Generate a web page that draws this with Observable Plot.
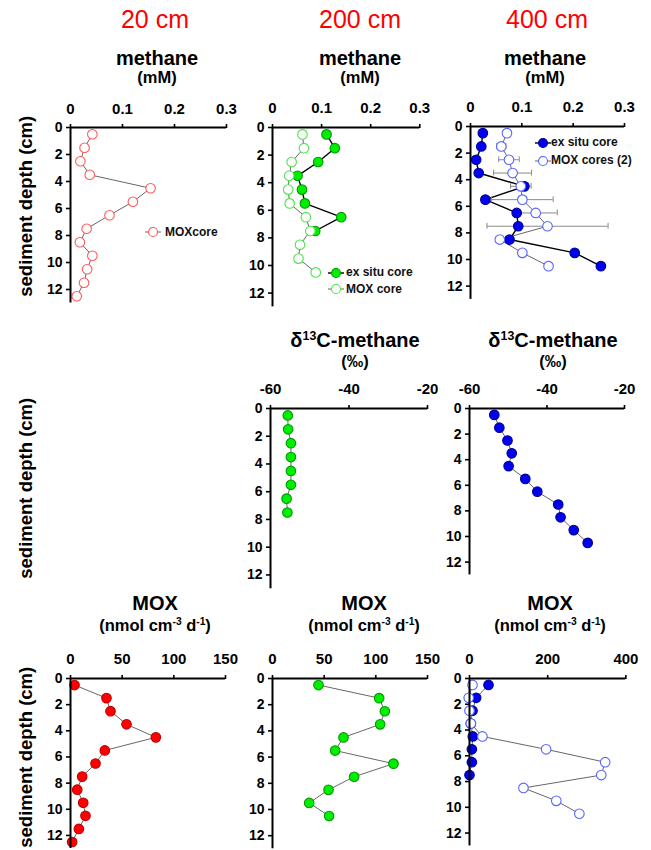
<!DOCTYPE html>
<html>
<head>
<meta charset="utf-8">
<script src="https://cdn.jsdelivr.net/npm/d3@7"></script>
<script src="https://cdn.jsdelivr.net/npm/@observablehq/plot@0.6"></script>
<style>
  body { margin: 0; background: #fff; font-family: "Liberation Sans", Arial, sans-serif; }
  #root { position: relative; width: 651px; height: 850px; overflow: hidden; background: #fff; }
  .txt { position: absolute; width: 300px; text-align: center; white-space: nowrap; line-height: 1; color: #000; }
  .hdr { color: #ff0000; font-size: 25px; }
  .ttl { font-weight: bold; font-size: 20px; }
  .sub { font-weight: bold; font-size: 16.5px; }
  .sup { font-size: 0.62em; position: relative; top: -0.55em; }
  .ylab { position: absolute; width: 260px; text-align: center; white-space: nowrap; line-height: 1;
          font-weight: bold; font-size: 18.5px; transform: rotate(-90deg); transform-origin: 50% 50%; }
  .leg { position: absolute; font-weight: bold; font-size: 12px; line-height: 1; white-space: nowrap; color: #111; }
</style>
</head>
<body>
<div id="root"></div>
<script>
// ---------------- DATA ----------------
const depths = [0.5, 1.5, 2.5, 3.5, 4.5, 5.5, 6.5, 7.5, 8.5, 9.5, 10.5, 11.5, 12.5];
const depthTicks = [0, 2, 4, 6, 8, 10, 12];
const columnLabels = ["20 cm", "200 cm", "400 cm"];

// methane (mM)
const ch4_20_mox = [0.042, 0.027, 0.019, 0.037, 0.154, 0.120, 0.075, 0.031, 0.018, 0.042, 0.032, 0.026, 0.012];
const ch4_200_exsitu = [0.110, 0.127, 0.093, 0.051, 0.060, 0.066, 0.140, 0.087];
const ch4_200_mox = [0.061, 0.064, 0.039, 0.034, 0.032, 0.035, 0.068, 0.077, 0.056, 0.053, 0.088];
const ch4_400_exsitu = [0.024, 0.021, 0.011, 0.016, 0.105, 0.029, 0.090, 0.093, 0.076, 0.203, 0.254];
const ch4_400_mox = [0.071, 0.060, 0.075, 0.082, 0.098, 0.101, 0.127, 0.150, 0.057, 0.101, 0.152];
const ch4_400_mox_sd = [0, 0.009, 0.020, 0.037, 0.020, 0.060, 0.042, 0.118, 0, 0, 0];
const ch4Ticks = [0, 0.1, 0.2, 0.3];

// d13C-methane (permil)
const d13c_200 = [-55.6, -55.5, -54.8, -54.8, -54.8, -54.8, -55.9, -55.7];
const d13c_400 = [-53.6, -52.3, -50.2, -49.1, -49.9, -45.6, -42.5, -37.1, -36.5, -33.1, -29.5];
const d13cTicks = [-60, -40, -20];

// MOX (nmol cm-3 d-1)
const mox_20 = [3.9, 34.8, 38.7, 54.2, 82.6, 33.2, 24.2, 11.3, 6.5, 12.3, 14.5, 8.1, 1.6];
const mox_200 = [44.5, 103.2, 108.7, 104.2, 68.7, 60.6, 117.1, 79.0, 54.2, 35.5, 54.8];
const mox_400_exsitu = [48.6, 17, 7.7, 3.4, 8.5, 6, 6, 0];
const mox_400_mox = [7.7, -2, 0, 3.4, 33, 196, 347, 337, 138, 222, 281];
const moxTicks20 = [0, 50, 100, 150];
const moxTicks400 = [0, 200, 400];

// ---------------- HELPERS ----------------
const FONT = '"Liberation Sans", Arial, sans-serif';
const root = document.getElementById("root");
const rows = (vals, sd) => vals.map((v, i) => ({depth: depths[i], v, sd: sd ? sd[i] : 0}));

const C = {
  redOpen: "#ff5a5a", redFill: "#ff0000", redEdge: "#c00000",
  greenFill: "#00ee00", greenEdge: "#009a00", greenOpen: "#4ee44e",
  blueFill: "#0000ee", blueEdge: "#00009a", blueOpen: "#5565ff",
  grayLine: "#666666", blackLine: "#000000", err: "#8a8a8a"
};

function lineMark(data, stroke, width) {
  return Plot.line(data, {x: "v", y: "depth", stroke, strokeWidth: width});
}
function dotMark(data, fill, stroke) {
  return Plot.dot(data, {x: "v", y: "depth", r: 4.8, fill, stroke, strokeWidth: 1.1});
}
function errMarks(data) {
  const e = data.filter(d => d.sd > 0);
  return [
    Plot.ruleY(e, {y: "depth", x1: d => d.v - d.sd, x2: d => d.v + d.sd, stroke: C.err, strokeWidth: 1}),
    Plot.ruleX(e, {x: d => d.v - d.sd, y1: d => d.depth - 0.22, y2: d => d.depth + 0.22, stroke: C.err, strokeWidth: 1}),
    Plot.ruleX(e, {x: d => d.v + d.sd, y1: d => d.depth - 0.22, y2: d => d.depth + 0.22, stroke: C.err, strokeWidth: 1})
  ];
}

const ML = 36, MT = 36, MR = 14, MB = 4;
function panel(p) {
  const w = p.x1 - p.x0, h = 13 * p.ppc;
  const svg = Plot.plot({
    width: ML + w + MR, height: MT + h + MB,
    marginLeft: ML, marginTop: MT, marginRight: MR, marginBottom: MB,
    x: {domain: p.domain, label: null},
    y: {domain: [0, 13], reverse: true, label: null},
    style: {fontFamily: FONT, background: "transparent", color: "#000", overflow: "visible"},
    marks: [
      ...p.marks,
      Plot.ruleY([0], {stroke: "#000", strokeWidth: 2}),
      Plot.ruleX([p.domain[0]], {stroke: "#000", strokeWidth: 2}),
      Plot.axisX({anchor: "top", ticks: p.ticks, tickSize: 4, tickPadding: 10, tickFormat: d => String(d),
                  strokeWidth: 1.6, label: null}),
      Plot.axisY({anchor: "left", ticks: depthTicks, tickSize: 4, tickPadding: 4, tickFormat: d => String(d),
                  strokeWidth: 1.6, label: null})
    ]
  });
  // enlarge & embolden tick labels (x labels are centred, y labels right-aligned)
  svg.querySelectorAll("text").forEach(t => {
    const anchor = t.getAttribute("text-anchor") || (t.parentNode && t.parentNode.getAttribute && t.parentNode.getAttribute("text-anchor"));
    const isY = anchor === "end";
    t.style.setProperty("font-size", isY ? "14px" : "15px", "important");
    t.style.setProperty("font-weight", "bold", "important");
    t.style.setProperty("fill", "#000", "important");
  });
  svg.querySelectorAll("g").forEach(g => {
    const a = g.getAttribute("aria-label") || "";
    if (a.includes("tick label")) {
      const isY = a.startsWith("y");
      g.style.setProperty("font-size", isY ? "14px" : "15px", "important");
      g.style.setProperty("font-weight", "bold", "important");
      g.querySelectorAll("text").forEach(t => t.style.setProperty("font-size", isY ? "14px" : "15px", "important"));
    }
  });
  svg.style.position = "absolute";
  svg.style.left = (p.x0 - ML) + "px";
  svg.style.top = (p.y0 - MT) + "px";
  svg.style.maxWidth = "none";
  root.appendChild(svg);
}

function text(html, cx, top, cls) {
  const d = document.createElement("div");
  d.className = "txt " + cls;
  d.innerHTML = html;
  d.style.left = (cx - 150) + "px";
  d.style.top = top + "px";
  root.appendChild(d);
}
function ylab(cy) {
  const d = document.createElement("div");
  d.className = "ylab";
  d.textContent = "sediment depth (cm)";
  d.style.left = (26 - 130) + "px";
  d.style.top = (cy - 9.25) + "px";
  root.appendChild(d);
}
function legendRow(cx, cy, lineColor, lineW, fill, stroke, label, textLeft) {
  const s = document.createElementNS("http://www.w3.org/2000/svg", "svg");
  s.setAttribute("width", 20); s.setAttribute("height", 12);
  s.style.position = "absolute"; s.style.left = (cx - 10) + "px"; s.style.top = (cy - 6) + "px";
  s.innerHTML = `<line x1="2" y1="6" x2="18" y2="6" stroke="${lineColor}" stroke-width="${lineW}"/>` +
                `<circle cx="10" cy="6" r="4.5" fill="${fill}" stroke="${stroke}" stroke-width="1.1"/>`;
  root.appendChild(s);
  const t = document.createElement("div");
  t.className = "leg"; t.textContent = label;
  t.style.left = textLeft + "px"; t.style.top = (cy - 6.5) + "px";
  root.appendChild(t);
}

// ---------------- HEADERS ----------------
text(columnLabels[0], 155, 7, "hdr");
text(columnLabels[1], 360, 7, "hdr");
text(columnLabels[2], 547, 7, "hdr");

const methaneTitle = "methane", methaneUnit = "(mM)";
const d13Title = "δ<span class='sup'>13</span>C-methane", d13Unit = "(‰)";
const moxTitle = "MOX", moxUnit = "(nmol cm<span class='sup'>-3</span> d<span class='sup'>-1</span>)";

[[157, methaneTitle], [360, methaneTitle], [545, methaneTitle]].forEach(([cx, t]) => {
  text(t, cx, 48, "ttl"); text(methaneUnit, cx, 68.5, "sub");
});
[[355, d13Title], [553, d13Title]].forEach(([cx, t]) => {
  text(t, cx, 330, "ttl"); text(d13Unit, cx, 353, "sub");
});
[[155, moxTitle], [364, moxTitle], [550, moxTitle]].forEach(([cx, t]) => {
  text(t, cx, 593, "ttl"); text(moxUnit, cx, 616.5, "sub");
});

ylab(206); ylab(488); ylab(757);

// ---------------- PANELS ----------------
{
  const m = rows(ch4_20_mox);
  panel({x0: 70, x1: 226, y0: 126.7, ppc: 13.5, domain: [0, 0.3], ticks: ch4Ticks,
         marks: [lineMark(m, C.grayLine, 1), dotMark(m, "#fff", C.redOpen)]});
}
{
  const e = rows(ch4_200_exsitu), m = rows(ch4_200_mox);
  panel({x0: 271.7, x1: 419, y0: 126.7, ppc: 13.8, domain: [0, 0.3], ticks: ch4Ticks,
         marks: [lineMark(e, C.blackLine, 1.4), lineMark(m, C.grayLine, 1),
                 dotMark(e, C.greenFill, C.greenEdge), dotMark(m, "#fff", C.greenOpen)]});
}
{
  const e = rows(ch4_400_exsitu), m = rows(ch4_400_mox, ch4_400_mox_sd);
  panel({x0: 470, x1: 624, y0: 126, ppc: 13.3, domain: [0, 0.3], ticks: ch4Ticks,
         marks: [lineMark(e, C.blackLine, 1.4), lineMark(m, C.grayLine, 1), ...errMarks(m),
                 dotMark(e, C.blueFill, C.blueEdge), dotMark(m, "#fff", C.blueOpen)]});
}
{
  const e = rows(d13c_200);
  panel({x0: 270, x1: 427, y0: 408.3, ppc: 13.87, domain: [-60, -20], ticks: d13cTicks,
         marks: [lineMark(e, C.grayLine, 1), dotMark(e, C.greenFill, C.greenEdge)]});
}
{
  const e = rows(d13c_400);
  panel({x0: 469.3, x1: 624.3, y0: 407.7, ppc: 12.8, domain: [-60, -20], ticks: d13cTicks,
         marks: [lineMark(e, C.grayLine, 1), dotMark(e, C.blueFill, C.blueEdge)]});
}
{
  const e = rows(mox_20);
  panel({x0: 70, x1: 225, y0: 678.3, ppc: 13.08, domain: [0, 150], ticks: moxTicks20,
         marks: [lineMark(e, C.grayLine, 1), dotMark(e, C.redFill, C.redEdge)]});
}
{
  const e = rows(mox_200);
  panel({x0: 271.7, x1: 426.7, y0: 678.3, ppc: 13.1, domain: [0, 150], ticks: moxTicks20,
         marks: [lineMark(e, C.grayLine, 1), dotMark(e, C.greenFill, C.greenEdge)]});
}
{
  const e = rows(mox_400_exsitu), m = rows(mox_400_mox);
  panel({x0: 469.3, x1: 625.7, y0: 678.3, ppc: 12.88, domain: [0, 400], ticks: moxTicks400,
         marks: [lineMark(e, C.grayLine, 1), lineMark(m, C.grayLine, 1),
                 dotMark(e, C.blueFill, C.blueEdge), dotMark(m, "#fff", C.blueOpen)]});
}

// ---------------- LEGENDS ----------------
legendRow(153, 232, C.grayLine, 1, "#fff", C.redOpen, "MOXcore", 165);
legendRow(336, 272.7, C.blackLine, 1.4, C.greenFill, C.greenEdge, "ex situ core", 346);
legendRow(336, 289, C.grayLine, 1, "#fff", C.greenOpen, "MOX core", 346);
legendRow(543, 142.7, C.blackLine, 1.4, C.blueFill, C.blueEdge, "ex situ core", 551);
legendRow(543, 160.7, C.grayLine, 1, "#fff", C.blueOpen, "MOX cores (2)", 551);
</script>
</body>
</html>
